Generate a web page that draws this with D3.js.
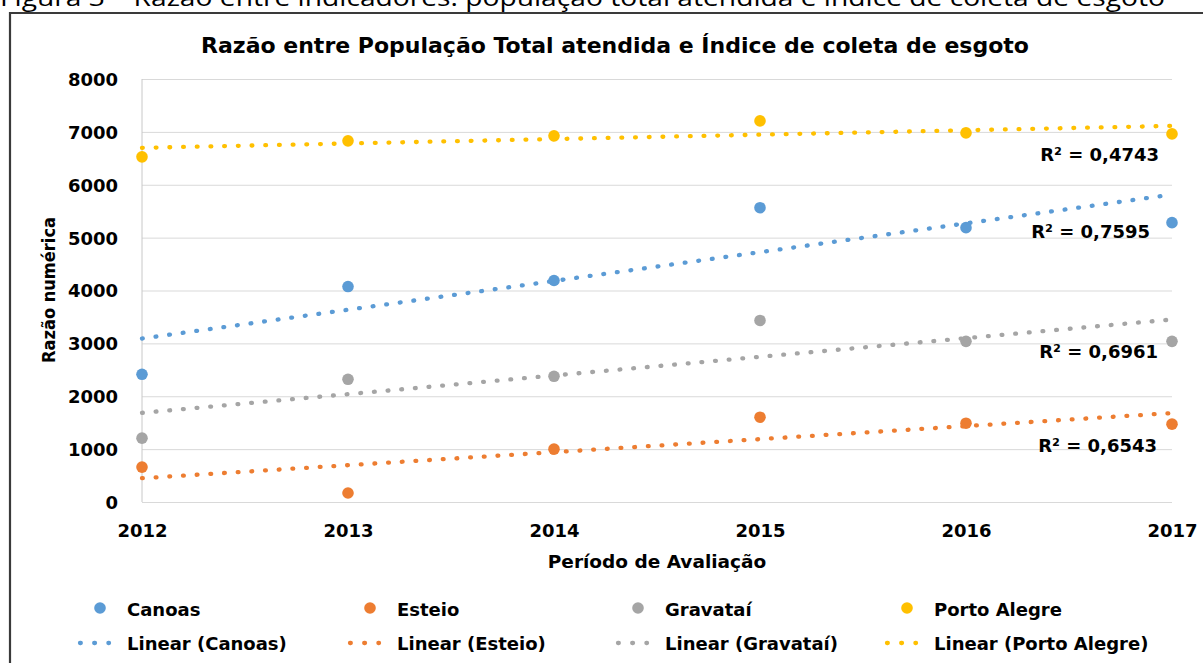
<!DOCTYPE html>
<html>

<head>
  <meta charset="utf-8">
  <title>Razão entre População Total atendida e Índice de coleta de esgoto</title>
  <script src="https://cdn.jsdelivr.net/npm/d3@7"></script>
</head>

<body>
  <main id="container"></main>

  <script>
    // values
    const years = [2012, 2013, 2014, 2015, 2016, 2017];
    const cities = ["Canoas", "Esteio", "Gravataí", "Porto Alegre"];
    const canoas = [2415, 4075, 4189, 5566, 5189, 5283];
    const esteio = [660, 170, 1000, 1604, 1490, 1472];
    const gravatai = [1208, 2321, 2377, 3434, 3038, 3038];
    const portoAlegre = [6528, 6830, 6925, 7208, 6981, 6962];
    const rSquared = ["0,7595", "0,6543", "0,6961", "0,4743"];
    const yTicks = [0, 1000, 2000, 3000, 4000, 5000, 6000, 7000, 8000];

    const colors = ["#5B9BD5", "#ED7D31", "#A5A5A5", "#FFC000"];
    const seriesValues = [canoas, esteio, gravatai, portoAlegre];

    const vizWidth = 1203;
    const vizHeight = 663;
    const plotLeft = 142, plotRight = 1172, plotTop = 79, plotBottom = 502;

    const svg = d3.select("#container")
      .append("svg")
      .attr("width", vizWidth)
      .attr("height", vizHeight)

    const x = d3.scaleLinear().domain([2012, 2017]).range([plotLeft, plotRight]);
    const y = d3.scaleLinear().domain([0, 8000]).range([plotBottom, plotTop]);

    // caption above the chart box (cut off by the page edge, as in the source)
    svg.append("text")
      .attr("x", 0)
      .attr("y", 6)
      .attr("textLength", 1165)
      .attr("lengthAdjust", "spacingAndGlyphs")
      .style("font-family", "'Open Sans', sans-serif")
      .style("font-size", "23px")
      .text("Figura 3 – Razão entre indicadores: população total atendida e índice de coleta de esgoto");

    // chart box
    svg.append("path")
      .attr("d", "M10,670V13H1210")
      .attr("fill", "none")
      .attr("stroke", "#3a3a3a")
      .attr("stroke-width", 2.2);

    svg.append("text")
      .attr("x", 615)
      .attr("y", 53)
      .attr("text-anchor", "middle")
      .attr("class", "lbl")
      .style("font-size", "22px")
      .text("Razão entre População Total atendida e Índice de coleta de esgoto");

    // y grid + labels
    const yAxis = svg.append("g")
      .attr("transform", `translate(${plotLeft},0)`)
      .call(d3.axisLeft(y).tickValues(yTicks).tickFormat(d3.format("d"))
        .tickSize(-(plotRight - plotLeft)).tickPadding(24));
    yAxis.select(".domain").remove();
    yAxis.selectAll("line").attr("stroke", "#d9d9d9");
    yAxis.selectAll("text").attr("class", "lbl").attr("dy", "0.36em");

    svg.append("line")
      .attr("x1", plotLeft).attr("x2", plotLeft)
      .attr("y1", plotTop).attr("y2", plotBottom)
      .attr("stroke", "#c8c8c8");

    const xAxis = svg.append("g")
      .attr("transform", `translate(0,${plotBottom})`)
      .call(d3.axisBottom(x).tickValues(years).tickFormat(d3.format("d"))
        .tickSize(0).tickPadding(22));
    xAxis.select(".domain").remove();
    xAxis.selectAll("text").attr("class", "lbl");

    // axis titles
    svg.append("text")
      .attr("class", "lbl")
      .attr("x", 657)
      .attr("y", 568)
      .attr("text-anchor", "middle")
      .style("font-size", "18.5px")
      .text("Período de Avaliação");

    svg.append("text")
      .attr("class", "lbl")
      .attr("transform", "translate(55,290) rotate(-90)")
      .attr("text-anchor", "middle")
      .attr("textLength", 146)
      .attr("lengthAdjust", "spacingAndGlyphs")
      .style("font-size", "18px")
      .text("Razão numérica");

    // least squares trend, like Excel's linear trendline
    function fit(vals) {
      const mx = d3.mean(years), my = d3.mean(vals);
      const b = d3.sum(years, (t, i) => (t - mx) * (vals[i] - my)) /
        d3.sum(years, t => (t - mx) ** 2);
      return t => my + b * (t - mx);
    }

    const line = d3.line().x(d => x(d[0])).y(d => y(d[1]));

    seriesValues.forEach((vals, k) => {
      svg.append("g")
        .selectAll("circle")
        .data(vals)
        .join("circle")
        .attr("cx", (d, i) => x(years[i]))
        .attr("cy", d => y(d))
        .attr("r", 5.8)
        .attr("fill", colors[k]);
    });

    seriesValues.forEach((vals, k) => {
      const f = fit(vals);
      const ends = [2012, 2017].map(t => [t, f(t)]);
      svg.append("path")
        .attr("d", line(ends))
        .attr("fill", "none")
        .attr("stroke", colors[k])
        .attr("stroke-width", 4.3)
        .attr("stroke-linecap", "round")
        .attr("stroke-dasharray", "0.8 12.9");
    });

    // R² labels
    const r2Pos = [[1150, 238], [1157, 452], [1158, 358], [1159, 161]];
    svg.append("g")
      .selectAll("text")
      .data(rSquared)
      .join("text")
      .attr("class", "lbl")
      .attr("x", (d, i) => r2Pos[i][0])
      .attr("y", (d, i) => r2Pos[i][1])
      .attr("text-anchor", "end")
      .text(d => "R² = " + d);

    // legend
    const legendX = [127, 397, 665, 934];
    const lg = svg.append("g");
    lg.selectAll("circle")
      .data(cities)
      .join("circle")
      .attr("cx", (d, i) => legendX[i] - 27)
      .attr("cy", 608)
      .attr("r", 5.8)
      .attr("fill", (d, i) => colors[i]);
    lg.selectAll("text.c")
      .data(cities)
      .join("text")
      .attr("class", "lbl c")
      .attr("x", (d, i) => legendX[i])
      .attr("y", 616)
      .text(d => d);
    lg.selectAll("path")
      .data(cities)
      .join("path")
      .attr("d", (d, i) => `M${legendX[i] - 47},643H${legendX[i] - 18}`)
      .attr("fill", "none")
      .attr("stroke", (d, i) => colors[i])
      .attr("stroke-width", 4.3)
      .attr("stroke-linecap", "round")
      .attr("stroke-dasharray", "0.8 13.4");
    lg.selectAll("text.t")
      .data(cities)
      .join("text")
      .attr("class", "lbl t")
      .attr("x", (d, i) => legendX[i])
      .attr("y", 650)
      .text(d => `Linear (${d})`);

  </script>
  <style>
    body {
      margin: 0;
      background: #fff;
    }

    .lbl {
      font-family: "DejaVu Sans", sans-serif;
      font-weight: bold;
      font-size: 18px;
      fill: #000;
    }
  </style>

</body>

</html>
